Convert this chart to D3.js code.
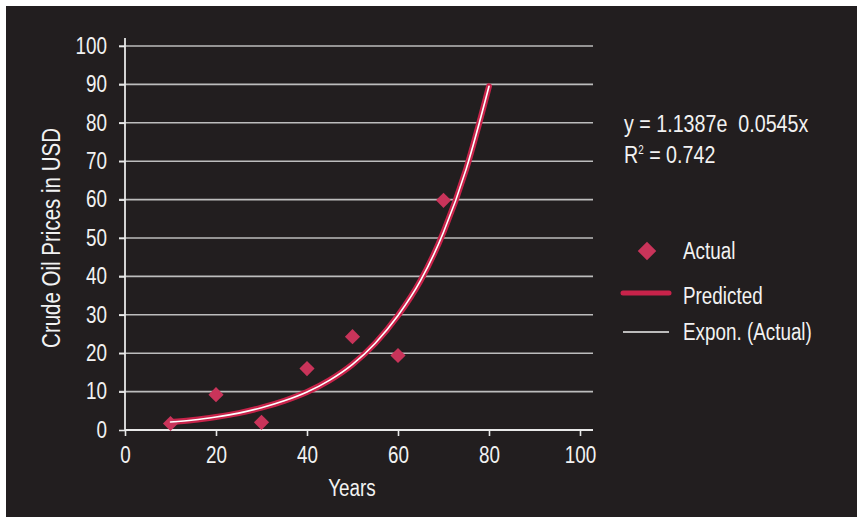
<!DOCTYPE html>
<html>
<head>
<meta charset="utf-8">
<script src="https://cdn.jsdelivr.net/npm/d3@7"></script>
<style>
  html, body { margin: 0; padding: 0; background: #fff; }
  svg { display: block; }
  text { font-family: "Liberation Sans", Arial, sans-serif; fill: #f2f2f2; white-space: pre; }
</style>
</head>
<body>
<svg id="chart" width="857" height="519"></svg>
<script>
// ---- data ----
const actualYears  = [10, 20, 30, 40, 50, 60, 70];
const actualPrices = [1.7, 9.2, 2.0, 16.0, 24.3, 19.4, 59.8];

const predictedYears  = [10, 15, 20, 25, 30, 35, 40, 45, 50, 55, 60, 65, 70, 75, 80];
const predictedPrices = [2.1, 2.6, 3.4, 4.4, 5.8, 7.6, 9.9, 13.0, 17.1, 22.6, 29.8, 39.0, 51.5, 68.0, 89.5];

const xTicks = [0, 20, 40, 60, 80, 100];
const yTicks = [0, 10, 20, 30, 40, 50, 60, 70, 80, 90, 100];

const equationText = "y = 1.1387e\u00a0\u00a00.0545x";
const rSquaredValue = "0.742";
const legendLabels = ["Actual", "Predicted", "Expon. (Actual)"];
const xTitle = "Years";
const yTitle = "Crude Oil Prices in USD";

// ---- drawing ----
const svg = d3.select("#chart");
const W = 857, H = 519;
const bg = "#221e1f";
const red = "#c8234a";
const markerRed = "#c9345a";
const SX = 0.82; // condensed look

// condense a text element horizontally around its own anchor point
function condense(sel) {
  sel.each(function () {
    const t = d3.select(this);
    const tx = +t.attr("x") || 0, ty = +t.attr("y") || 0;
    const prev = t.attr("transform") || "";
    t.attr("x", 0).attr("y", 0)
     .attr("transform", `${prev} translate(${tx},${ty}) scale(${SX},1)`);
  });
}

svg.append("rect").attr("x", 6).attr("y", 6).attr("width", W - 6).attr("height", H - 8).attr("fill", bg);

const x = d3.scaleLinear().domain([0, 100]).range([125, 580]);
const y = d3.scaleLinear().domain([0, 100]).range([430, 46]);

const g = svg.append("g");

// gridlines
g.append("g")
  .selectAll("line")
  .data(yTicks.filter(d => d > 0))
  .join("line")
  .attr("x1", 119).attr("x2", 593)
  .attr("y1", d => y(d)).attr("y2", d => y(d))
  .attr("stroke", "#bdbdbd").attr("stroke-width", 1.6);

// y axis
const yAxis = g.append("g")
  .attr("transform", `translate(${x(0)},0)`)
  .call(d3.axisLeft(y).tickValues(yTicks).tickSize(6).tickPadding(12).tickFormat(d3.format("d")));
yAxis.select(".domain").remove();
yAxis.append("line").attr("x1", 0).attr("x2", 0).attr("y1", 38).attr("y2", y(0)).attr("stroke", "#e8e8e8").attr("stroke-width", 1.8);
yAxis.selectAll(".tick line").attr("stroke", "#e8e8e8").attr("stroke-width", 1.6);
yAxis.selectAll(".tick text").attr("fill", "#f2f2f2").attr("font-size", 23)
  .attr("font-family", '"Liberation Sans", Arial, sans-serif').call(condense);

// x axis
const xAxis = g.append("g")
  .attr("transform", `translate(0,${y(0)})`)
  .call(d3.axisBottom(x).tickValues(xTicks).tickSize(6).tickPadding(11).tickFormat(d3.format("d")));
xAxis.select(".domain").remove();
xAxis.append("line").attr("x1", x(0)).attr("x2", 593).attr("y1", 0).attr("y2", 0).attr("stroke", "#e8e8e8").attr("stroke-width", 1.8);
xAxis.selectAll(".tick line").attr("stroke", "#e8e8e8").attr("stroke-width", 1.6);
xAxis.selectAll(".tick text").attr("fill", "#f2f2f2").attr("font-size", 23)
  .attr("font-family", '"Liberation Sans", Arial, sans-serif').call(condense);

// axis titles
svg.append("text").attr("x", 352).attr("y", 496).attr("text-anchor", "middle").attr("font-size", 23).text(xTitle).call(condense);
svg.append("g").attr("transform", "translate(60,238) rotate(-90)")
  .append("text").attr("text-anchor", "middle").attr("font-size", 25).text(yTitle).call(condense);

// predicted line + exponential trend
const line = d3.line().x((d, i) => x(predictedYears[i])).y(d => y(d)).curve(d3.curveMonotoneX);
g.append("path").attr("d", line(predictedPrices)).attr("fill", "none").attr("stroke", red).attr("stroke-width", 6).attr("stroke-linecap", "round");

// actual markers
const diamond = d3.symbol().type(d3.symbolSquare).size(115);
g.append("g").selectAll("path")
  .data(actualPrices)
  .join("path")
  .attr("d", diamond)
  .attr("transform", (d, i) => `translate(${x(actualYears[i])},${y(d)}) rotate(45)`)
  .attr("fill", markerRed);

g.append("path").attr("d", line(predictedPrices)).attr("fill", "none").attr("stroke", "#ffffff").attr("stroke-width", 1.6).attr("stroke-linecap", "round");

// equation
svg.append("text").attr("x", 624).attr("y", 132).attr("font-size", 24).text(equationText).call(condense);
const r2 = svg.append("text").attr("x", 624).attr("y", 163).attr("font-size", 24);
r2.append("tspan").text("R");
r2.append("tspan").attr("font-size", 12).attr("dy", -9).text("2");
r2.append("tspan").attr("dy", 9).text(" = " + rSquaredValue);
r2.call(condense);

// legend
const leg = svg.append("g");
leg.append("path").attr("d", d3.symbol().type(d3.symbolSquare).size(170)).attr("transform", "translate(647,251) rotate(45)").attr("fill", markerRed);
leg.append("line").attr("x1", 623).attr("x2", 669).attr("y1", 293).attr("y2", 293).attr("stroke", red).attr("stroke-width", 5).attr("stroke-linecap", "round");
leg.append("line").attr("x1", 623).attr("x2", 669).attr("y1", 332).attr("y2", 332).attr("stroke", "#f0f0f0").attr("stroke-width", 1.5);
const legY = [259, 304, 340];
leg.selectAll("text.l").data(legendLabels).join("text").attr("class", "l")
  .attr("x", 683).attr("y", (d, i) => legY[i]).attr("font-size", 23).text(d => d).call(condense);
</script>
</body>
</html>
